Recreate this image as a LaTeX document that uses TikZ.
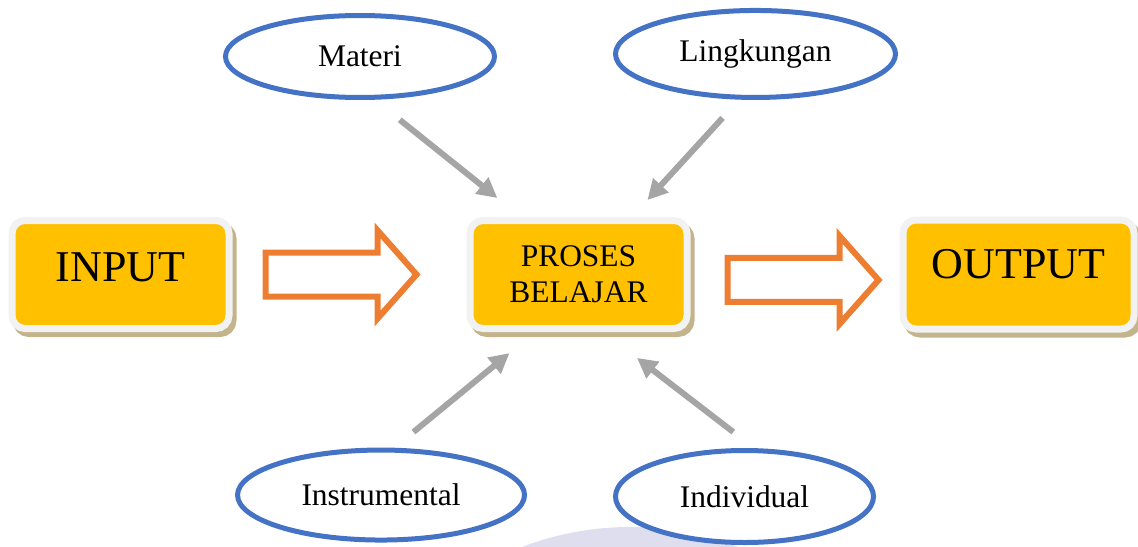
\documentclass[tikz,border=0pt]{standalone}
\usepackage{fontspec}
\setmainfont{Liberation Serif}
\usetikzlibrary{positioning,arrows.meta,shapes.geometric,shapes.arrows}
\definecolor{boxfill}{HTML}{FFC000}
\definecolor{boxframe}{HTML}{F2F2F2}
\definecolor{boxshadow}{HTML}{C4B48C}
\definecolor{ovalblue}{HTML}{4472C4}
\definecolor{pipeorange}{HTML}{ED7D31}
\definecolor{feedgray}{HTML}{A5A5A5}
\definecolor{wmark}{HTML}{DEDEEE}
\tikzset{
  block/.style={
    draw=boxframe, fill=boxfill, line width=5.25pt, rounded corners=9.75pt,
    minimum width=162.75pt, minimum height=81pt, inner sep=0pt, outer sep=0pt,
    align=center,
    preaction={draw=boxshadow, fill=boxshadow, line width=5.25pt,
      transform canvas={xshift=3pt, yshift=-3.75pt}},
  },
  bigtext/.style={font=\fontsize{33}{40}\selectfont},
  midtext/.style={font=\fontsize{23.6}{27}\selectfont},
  factor/.style={
    ellipse, draw=ovalblue, fill=white, line width=3.75pt,
    inner sep=0pt, outer sep=0pt, on grid, midtext,
  },
  pipe/.style={
    single arrow, draw=pipeorange, fill=white, line width=4.5pt,
    minimum height=113.25pt, inner xsep=0pt, inner ysep=14.25pt,
    single arrow head extend=16.5pt, single arrow tip angle=97,
    outer sep=0pt,
  },
  feed/.style={draw=feedgray, line width=4.5pt, -{Triangle[length=15pt, width=15pt]}},
}

\begin{document}
\begin{tikzpicture}[node distance=30pt]

\useasboundingbox (0,0) rectangle (853.5pt,-409.5pt);

% faint mark behind the lower ovals
\begin{scope}
\clip (0,0) rectangle (853.5pt,-409.5pt);
\fill[wmark] (472.5pt,-620.25pt) circle (225pt);
\end{scope}

\node[block, midtext] (proses) at (433.875pt,-205.875pt) {PROSES\\BELAJAR};
\node[block, bigtext, text depth=11.6pt, left=180.75pt of proses] (in) {INPUT};
\node[block, bigtext, text depth=16.6pt, minimum width=173.25pt, minimum height=81.75pt,
  right=162pt of proses] (out) {OUTPUT};

\node[pipe, right=27.4pt of in] (pin) {};
\node[pipe, right=30.4pt of proses, yshift=-4.1pt] (pout) {};

\node[factor, minimum width=201.75pt, minimum height=61.5pt,
  above left=163.5pt and 163.9pt of proses] (materi) {Materi};
\node[factor, minimum width=210pt, minimum height=65.25pt,
  above right=165.4pt and 132.75pt of proses] (lingk) {Lingkungan};
\node[factor, minimum width=215.25pt, minimum height=67.5pt,
  below left=165.4pt and 148.1pt of proses] (instr) {Instrumental};
\node[factor, minimum width=193.5pt, minimum height=69pt,
  below right=166.5pt and 124.5pt of proses] (indiv) {Individual};

\draw[feed, shorten <=27pt, shorten >=27pt] (materi.-74) -- ([xshift=41.6pt]proses.north west);
\draw[feed, shorten <=21pt, shorten >=20.8pt] (lingk.-108.5) -- ([xshift=-43.7pt]proses.north east);
\draw[feed, shorten <=21.4pt, shorten >=29.1pt] (instr.77.5) -- ([xshift=52.1pt]proses.south west);
\draw[feed, shorten <=23pt, shorten >=36.2pt] (indiv.74.5) -- ([xshift=15.2pt]proses.south);

\end{tikzpicture}
\end{document}
